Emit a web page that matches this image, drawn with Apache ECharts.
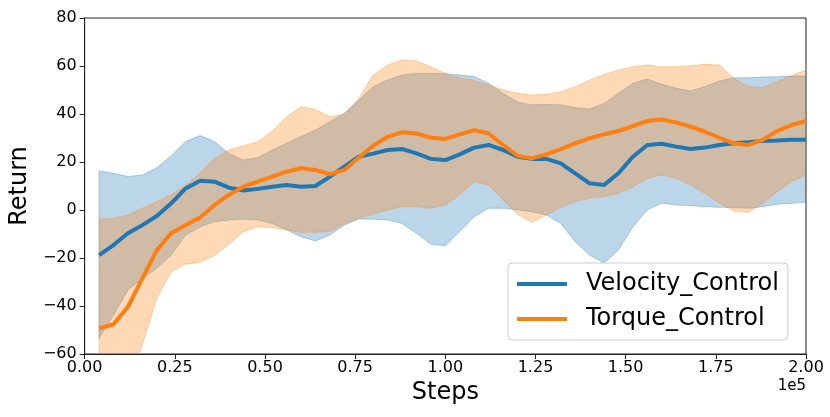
<!DOCTYPE html>
<html>
<head>
<meta charset="utf-8">
<script src="https://cdn.jsdelivr.net/npm/echarts@6/dist/echarts.min.js"></script>
<style>
html,body{margin:0;padding:0;background:#fff;}
#chart{width:830px;height:417px;}
</style>
</head>
<body>
<div id="chart"></div>
<script>
// x positions in steps
var steps = [4000, 8000, 12000, 16000, 20000, 24000, 28000, 32000, 36000, 40000,
  44000, 48000, 52000, 56000, 60000, 64000, 68000, 72000, 76000, 80000,
  84000, 88000, 92000, 96000, 100000, 104000, 108000, 112000, 116000, 120000,
  124000, 128000, 132000, 136000, 140000, 144000, 148000, 152000, 156000, 160000,
  164000, 168000, 172000, 176000, 180000, 184000, 188000, 192000, 196000, 200000];

var velMean = [-18.8, -14.6, -9.7, -6.3, -2.5, 2.8, 9.0, 12.2, 11.8, 9.3,
  8.1, 8.8, 9.7, 10.4, 9.7, 10.0, 13.9, 18.1, 22.2, 23.5,
  25.0, 25.4, 23.6, 21.3, 20.8, 23.2, 26.0, 27.1, 25.0, 22.2,
  21.3, 21.3, 19.4, 15.3, 11.1, 10.4, 15.3, 22.2, 27.1, 27.6,
  26.4, 25.4, 26.0, 27.1, 27.8, 28.2, 28.8, 29.0, 29.3, 29.3];

var velUpper = [16.3, 15.3, 14.0, 14.6, 17.6, 22.6, 28.5, 31.0, 28.5, 23.5,
  20.8, 21.9, 25.0, 27.8, 30.6, 33.3, 36.8, 40.3, 45.8, 51.4,
  54.2, 56.3, 56.9, 56.9, 56.8, 56.3, 55.6, 52.8, 48.6, 45.0,
  43.8, 44.0, 43.8, 42.6, 42.1, 44.4, 48.6, 52.8, 54.6, 52.4,
  50.7, 49.6, 51.4, 53.8, 55.1, 55.1, 55.4, 55.5, 55.8, 55.8];

var velLower = [-53.5, -43.8, -33.3, -28.5, -24.3, -18.8, -10.4, -7.0, -4.9, -4.2,
  -3.8, -4.2, -5.6, -8.3, -11.1, -12.9, -10.4, -6.3, -3.8, -3.8,
  -4.2, -5.6, -9.7, -14.3, -14.9, -9.0, -2.8, 0.7, 0.7, 0.0,
  -0.7, -2.1, -5.6, -13.2, -18.8, -22.2, -16.7, -7.0, 0.0, 2.8,
  2.1, 1.8, 1.4, 1.1, 1.0, 0.7, 1.4, 2.4, 2.8, 3.2];

var torMean = [-49.3, -47.6, -40.3, -28.5, -16.7, -9.7, -6.3, -3.1, 2.1, 6.3,
  9.7, 11.8, 13.9, 16.0, 17.4, 16.7, 14.9, 16.7, 21.8, 26.8,
  30.5, 32.4, 31.9, 30.1, 29.6, 31.5, 33.3, 31.9, 27.1, 22.6,
  21.5, 23.2, 25.4, 27.8, 29.9, 31.5, 32.9, 35.0, 37.1, 37.7,
  36.5, 34.7, 32.6, 30.1, 27.8, 27.1, 29.2, 32.9, 35.4, 37.1];

var torUpper = [-3.8, -3.5, -2.1, 0.7, 3.5, 6.3, 10.4, 15.3, 21.5, 25.0,
  26.8, 28.4, 32.9, 38.9, 43.1, 41.9, 38.9, 39.9, 46.5, 56.2,
  60.4, 62.5, 62.1, 59.7, 56.9, 55.0, 54.0, 52.1, 50.0, 48.6,
  47.9, 48.2, 49.3, 51.4, 54.2, 56.5, 58.3, 59.7, 60.4, 59.7,
  59.7, 60.1, 60.7, 60.4, 54.9, 51.5, 51.0, 53.5, 56.0, 58.3];

var torLower = [-80, -78, -75, -56, -36.8, -25.7, -22.6, -21.8, -19.0, -14.3,
  -9.0, -7.0, -7.4, -8.3, -9.3, -9.3, -9.0, -5.6, -3.5, -1.6,
  0.0, 1.4, 1.4, 0.7, 2.1, 6.3, 11.8, 10.4, 4.2, -1.8,
  -5.1, -2.1, 1.0, 3.5, 4.9, 5.6, 6.9, 9.7, 13.2, 14.6,
  13.2, 10.4, 6.9, 2.8, -0.4, -1.0, 2.8, 7.6, 11.8, 14.6];

var seriesNames = ['Velocity_Control', 'Torque_Control'];
var xTickStep = 25000;
var yMin = -60, yMax = 80, yStep = 20;

var BLUE = '#1f77b4', ORANGE = '#ff7f0e';
var BLUE_FILL = 'rgba(31,119,180,0.3)', ORANGE_FILL = 'rgba(255,127,14,0.3)';
var FONT = 'DejaVu Sans';

function pairs(ys) { return steps.map(function (x, i) { return [x, ys[i]]; }); }
function minusFmt(v) { return v < 0 ? '\u2212' + Math.abs(v) : String(v); }

// band drawn as a polygon through the library's coordinate system
function bandSeries(lo, up, fill, z) {
  return {
    type: 'custom', silent: true, z: z, clip: true,
    data: steps.map(function (x, i) { return [x, lo[i], up[i]]; }),
    encode: { x: 0, y: [1, 2] },
    renderItem: function (params, api) {
      if (params.dataIndex !== 0) return null;
      var top = [], bot = [];
      for (var i = 0; i < steps.length; i++) {
        top.push(api.coord([steps[i], up[i]]));
        bot.push(api.coord([steps[i], lo[i]]));
      }
      var pts = top.concat(bot.reverse());
      var cs = params.coordSys;
      return {
        type: 'polygon',
        shape: { points: pts },
        clipPath: { type: 'rect', shape: { x: cs.x, y: cs.y, width: cs.width, height: cs.height } },
        style: { fill: fill, stroke: fill, lineWidth: 1 }
      };
    }
  };
}

var chart = echarts.init(document.getElementById('chart'), null, { renderer: 'canvas' });
var option = {
  animation: false,
  backgroundColor: '#fff',
  textStyle: { fontFamily: FONT },
  grid: { left: 80, right: 24, top: 18, bottom: 63, show: true, borderColor: '#222', borderWidth: 1, containLabel: false },
  xAxis: {
    type: 'value', min: 0, max: 200000, interval: xTickStep,
    name: 'Steps', nameLocation: 'middle', nameGap: 26,
    nameTextStyle: { fontSize: 24, color: '#000', fontFamily: FONT },
    axisLine: { show: true, onZero: false, lineStyle: { color: '#222', width: 1 } },
    axisTick: { show: true, inside: false, length: 5, lineStyle: { color: '#222' } },
    axisLabel: { fontSize: 16, color: '#000', margin: 6, fontFamily: FONT,
      formatter: function (v) { return (v / 1e5).toFixed(2); } },
    splitLine: { show: false }
  },
  yAxis: {
    type: 'value', min: yMin, max: yMax, interval: yStep,
    name: 'Return', nameLocation: 'middle', nameGap: 46, nameRotate: 90,
    nameTextStyle: { fontSize: 24, color: '#000', fontFamily: FONT },
    axisLine: { show: true, onZero: false, lineStyle: { color: '#222', width: 1 } },
    axisTick: { show: true, inside: false, length: 5, lineStyle: { color: '#222' } },
    axisLabel: { fontSize: 16, color: '#000', margin: 8, fontFamily: FONT, formatter: minusFmt },
    splitLine: { show: false }
  },
  legend: {
    data: [{ name: seriesNames[0], icon: 'rect' }, { name: seriesNames[1], icon: 'rect' }],
    orient: 'vertical', left: 508, top: 263,
    itemWidth: 50, itemHeight: 4, itemGap: 11,
    padding: [9, 9, 9, 9],
    backgroundColor: 'rgba(255,255,255,0.8)', borderColor: '#cccccc', borderWidth: 1, borderRadius: 4,
    textStyle: { fontSize: 24, color: '#000', fontFamily: FONT, padding: [0, 0, 0, 14] }
  },
  graphic: [{
    type: 'text', right: 24, top: 379,
    style: { text: '1e5', fontSize: 15, fontFamily: FONT, fill: '#000' }
  }],
  series: [
    bandSeries(velLower, velUpper, BLUE_FILL, 1),
    bandSeries(torLower, torUpper, ORANGE_FILL, 2),
    { name: seriesNames[0], type: 'line', data: pairs(velMean), showSymbol: false, z: 5,
      color: BLUE, lineStyle: { width: 4, color: BLUE } },
    { name: seriesNames[1], type: 'line', data: pairs(torMean), showSymbol: false, z: 6,
      color: ORANGE, lineStyle: { width: 4, color: ORANGE } }
  ]
};
chart.setOption(option);
</script>
</body>
</html>
